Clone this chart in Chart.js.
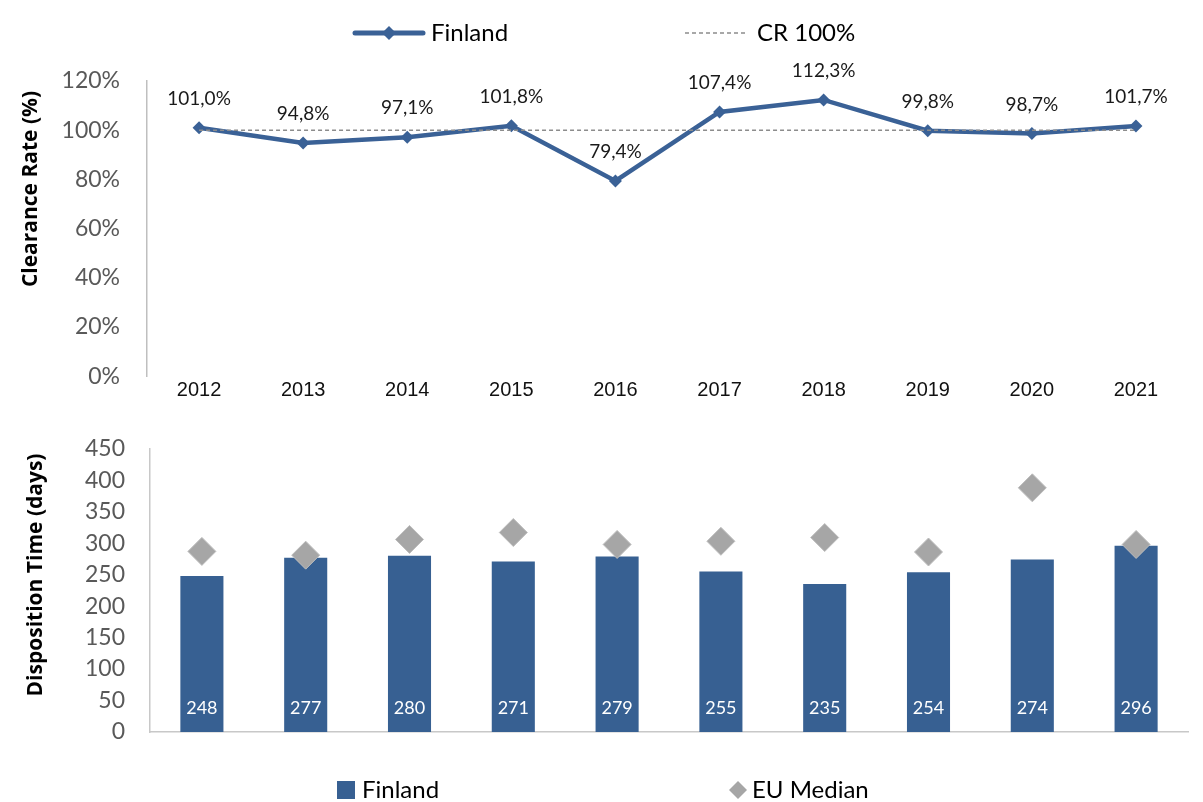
<!DOCTYPE html>
<html><head><meta charset="utf-8">
<script src="https://cdn.jsdelivr.net/npm/chart.js@4.4.0/dist/chart.umd.min.js"></script>
<style>
html,body{margin:0;padding:0;background:#fff;}
#wrap{position:relative;width:1203px;height:802px;overflow:hidden;background:#fff;}
canvas{position:absolute;left:0;}
#c1{top:0;z-index:1;} #c2{top:410px;z-index:2;}
</style></head><body>
<div id="wrap"><canvas id="c1" width="1203" height="417"></canvas><canvas id="c2" width="1203" height="392"></canvas></div>
<script>
const years = ['2012','2013','2014','2015','2016','2017','2018','2019','2020','2021'];
const clearanceRate = [101.0, 94.8, 97.1, 101.8, 79.4, 107.4, 112.3, 99.8, 98.7, 101.7];
const crTarget = [100, 100, 100, 100, 100, 100, 100, 100, 100, 100];
const dispositionFinland = [248, 277, 280, 271, 279, 255, 235, 254, 274, 296];
const dispositionEU = [287, 281, 306, 317, 298, 303, 309, 286, 388, 298];
const legendTop = ['Finland', 'CR 100%'];
const legendBottom = ['Finland', 'EU Median'];
const titleTop = 'Clearance Rate (%)';
const titleBottom = 'Disposition Time (days)';

const BLUE = '#3a6196';
const BAR = '#376092';
const GREY = '#a6a6a6';
const CAL = 'Lato, "Open Sans", sans-serif';
const TITLEFONT = '"Open Sans", Lato, sans-serif';

function diamond(ctx, x, y, r, fill, stroke) {
  ctx.beginPath();
  ctx.moveTo(x - r, y); ctx.lineTo(x, y - r); ctx.lineTo(x + r, y); ctx.lineTo(x, y + r);
  ctx.closePath();
  ctx.fillStyle = fill; ctx.fill();
  if (stroke) { ctx.strokeStyle = stroke; ctx.lineWidth = 1; ctx.stroke(); }
}

const topDecor = {
  id: 'topDecor',
  afterDatasetsDraw(chart) {
    const ctx = chart.ctx;
    ctx.save();
    const meta = chart.getDatasetMeta(1);
    ctx.font = '19px ' + CAL;
    ctx.fillStyle = '#1a1a1a';
    ctx.textAlign = 'center'; ctx.textBaseline = 'middle';
    meta.data.forEach((pt, i) => {
      const v = chart.data.datasets[1].data[i];
      ctx.fillText(v.toFixed(1).replace('.', ',') + '%', pt.x, pt.y - 29);
    });
    ctx.lineCap = 'round';
    ctx.strokeStyle = BLUE; ctx.lineWidth = 5;
    ctx.beginPath(); ctx.moveTo(355, 33); ctx.lineTo(423, 33); ctx.stroke();
    diamond(ctx, 389, 33, 7, BLUE);
    ctx.font = '24px ' + CAL; ctx.fillStyle = '#000'; ctx.textAlign = 'left';
    ctx.fillText(legendTop[0], 431, 33);
    ctx.lineCap = 'butt';
    ctx.strokeStyle = '#8c8c8c'; ctx.lineWidth = 1.5; ctx.setLineDash([4, 3]);
    ctx.beginPath(); ctx.moveTo(685, 33); ctx.lineTo(747, 33); ctx.stroke();
    ctx.setLineDash([]);
    ctx.fillText(legendTop[1], 757, 33);
    ctx.translate(31, 189); ctx.rotate(-Math.PI / 2);
    ctx.font = 'bold 21px ' + TITLEFONT; ctx.textAlign = 'center';
    ctx.fillText(titleTop, 0, 0);
    ctx.restore();
  }
};

const bottomDecor = {
  id: 'bottomDecor',
  afterDatasetsDraw(chart) {
    const ctx = chart.ctx;
    ctx.save();
    const meta = chart.getDatasetMeta(1);
    ctx.font = '18px ' + CAL;
    ctx.fillStyle = '#ffffff';
    ctx.textAlign = 'center'; ctx.textBaseline = 'middle';
    meta.data.forEach((bar, i) => {
      ctx.fillText(String(chart.data.datasets[1].data[i]), bar.x, bar.base - 24);
    });
    ctx.fillStyle = BAR; ctx.fillRect(337, 371, 18, 18);
    ctx.font = '24px ' + CAL; ctx.fillStyle = '#000'; ctx.textAlign = 'left';
    ctx.fillText(legendBottom[0], 362, 380);
    diamond(ctx, 738, 380, 9, GREY);
    ctx.fillStyle = '#000';
    ctx.fillText(legendBottom[1], 752, 380);
    ctx.translate(36, 165); ctx.rotate(-Math.PI / 2);
    ctx.font = 'bold 21px ' + TITLEFONT; ctx.textAlign = 'center';
    ctx.fillText(titleBottom, 0, 0);
    ctx.restore();
  }
};

new Chart(document.getElementById('c1'), {
  type: 'line',
  data: {
    labels: years,
    datasets: [
      { label: legendTop[1], data: crTarget, borderColor: '#8c8c8c', borderWidth: 1.5, borderDash: [4, 3],
        pointRadius: 0, fill: false, order: 0 },
      { label: legendTop[0], data: clearanceRate, borderColor: BLUE, borderWidth: 4.5, pointStyle: 'rectRot',
        pointRadius: 6.5, pointBackgroundColor: BLUE, pointBorderColor: BLUE, pointBorderWidth: 0,
        fill: false, tension: 0, order: 1 }
    ]
  },
  options: {
    responsive: false, animation: false, devicePixelRatio: 1,
    layout: { padding: { top: 81, left: 0, right: 15, bottom: 0 } },
    plugins: { legend: { display: false }, tooltip: { enabled: false } },
    scales: {
      x: {
        offset: true,
        grid: { display: false, drawTicks: false },
        border: { display: false },
        ticks: { font: { family: '"Liberation Sans", Arial, sans-serif', size: 20 }, color: '#111', padding: 2 }
      },
      y: {
        min: 0, max: 120,
        grid: { display: false, drawTicks: false },
        border: { display: true, color: '#bfbfbf', width: 1.5 },
        ticks: { stepSize: 20, font: { family: CAL, size: 23 }, color: '#595959', padding: 27,
          callback: v => v + '%' },
        afterFit: s => { s.width = 147; }
      }
    }
  },
  plugins: [topDecor]
});

new Chart(document.getElementById('c2'), {
  type: 'bar',
  data: {
    labels: years,
    datasets: [
      { type: 'line', label: legendBottom[1], data: dispositionEU, showLine: false, pointStyle: 'rectRot',
        pointRadius: 14, pointBackgroundColor: GREY, pointBorderColor: '#bdbdbd', pointBorderWidth: 1, order: 0 },
      { type: 'bar', label: legendBottom[0], data: dispositionFinland, backgroundColor: BAR,
        barPercentage: 0.415, categoryPercentage: 1, order: 1 }
    ]
  },
  options: {
    responsive: false, animation: false, devicePixelRatio: 1,
    layout: { padding: { top: 35, left: 0, right: 13, bottom: 0 } },
    plugins: { legend: { display: false }, tooltip: { enabled: false } },
    scales: {
      x: {
        offset: true,
        grid: { display: false, drawTicks: false },
        border: { display: true, color: '#c8c8c8', width: 1.5 },
        ticks: { display: false },
        afterFit: s => { s.height = 70; }
      },
      y: {
        min: 0, max: 450,
        grid: { display: false, drawTicks: false },
        border: { display: true, color: '#c8c8c8', width: 1.5 },
        ticks: { stepSize: 50, font: { family: CAL, size: 23 }, color: '#595959', padding: 25 },
        afterFit: s => { s.width = 150; }
      }
    }
  },
  plugins: [bottomDecor]
});
</script>
</body></html>
